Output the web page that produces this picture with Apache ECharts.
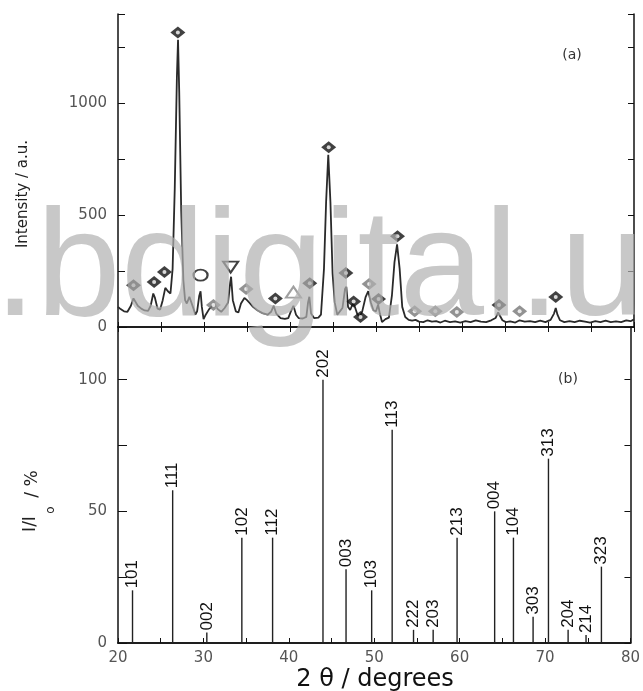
<!DOCTYPE html>
<html><head><meta charset="utf-8">
<script src="https://cdn.jsdelivr.net/npm/echarts@6/dist/echarts.min.js"></script>
<style>html,body{margin:0;padding:0;background:#fff}#c{width:643px;height:691px}</style>
</head><body><div id="c"></div>
<script>
const traceTheta = [20.0,20.3,20.7,21.1,21.5,21.8,22.0,22.3,22.7,23.1,23.5,23.8,24.1,24.3,24.6,24.9,25.2,25.5,25.8,26.1,26.35,26.6,26.85,26.98,27.12,27.35,27.6,27.8,28.0,28.3,28.5,28.8,29.0,29.2,29.45,29.6,29.75,29.95,30.2,30.6,31.0,31.3,31.6,32.0,32.4,32.8,33.05,33.15,33.35,33.7,34.0,34.3,34.7,35.0,35.3,35.7,36.2,36.8,37.4,37.8,38.1,38.4,38.9,39.4,39.8,40.1,40.4,40.7,41.0,41.5,41.9,42.1,42.25,42.45,42.8,43.3,43.6,43.95,44.2,44.45,44.7,44.95,45.2,45.5,45.8,46.1,46.4,46.55,46.75,47.0,47.3,47.5,47.8,48.1,48.4,48.8,49.1,49.4,49.7,50.0,50.25,50.45,50.7,51.1,51.5,51.85,52.15,52.45,52.75,53.05,53.4,53.8,54.2,54.6,55.0,55.5,56.0,56.5,57.0,57.5,58.0,58.6,59.2,59.8,60.4,61.0,61.6,62.2,62.8,63.4,63.9,64.2,64.4,64.7,65.1,65.6,66.2,66.7,67.3,67.9,68.5,69.1,69.7,70.3,70.7,70.9,71.1,71.4,71.9,72.5,73.1,73.7,74.3,74.9,75.5,76.1,76.7,77.3,77.9,78.5,79.1,79.6,80.0];
const traceCounts = [90,80,70,68,95,128,120,95,82,74,72,95,150,130,82,78,120,175,160,150,260,620,1120,1285,1050,520,210,120,105,135,140,80,55,70,140,160,90,35,55,80,95,100,80,68,85,110,200,225,120,70,65,105,130,120,108,90,75,62,55,68,95,60,40,36,40,70,95,55,40,38,45,110,135,60,40,42,55,260,560,770,560,240,110,55,70,85,170,180,90,76,105,95,60,45,70,135,160,110,75,70,100,60,22,35,42,140,290,370,260,90,45,32,28,32,24,22,30,24,26,20,28,22,25,20,26,22,30,24,22,30,40,65,60,30,22,25,20,30,24,26,22,28,22,32,60,85,55,30,22,26,22,28,24,20,26,22,28,22,25,22,30,26,34];

// phase markers (2theta, intensity at marker)
const markBlack = [[21.8,187],[24.2,201],[25.4,246],[26.96,1317],[38.3,127],[42.3,196],[44.5,804],[46.5,241],[47.4,114],[48.2,45],[50.3,125],[52.5,406],[64.3,98],[70.9,134]];
const markGray = [[31.1,98],[34.9,170],[49.2,192],[54.5,71],[56.9,71],[59.4,67],[66.7,71]];
const markOpenCircle = [[29.6,232]];
const markOpenDown = [[33.1,268]];
const markOpenTri = [[40.4,156]];

// ---- (b) reference sticks ----
const stickTheta = [21.7,26.4,30.4,34.5,38.1,44.0,46.7,49.7,52.1,54.6,56.9,59.7,64.1,66.3,68.6,70.4,72.7,74.8,76.6];
const stickRel   = [20,58,4,40,40,100,28,20,81,5,5,40,50,40,10,70,5,3,29];
const stickHkl   = ['101','111','002','102','112','202','003','103','113','222','203','213','004','104','303','313','204','214','323'];

const chart = echarts.init(document.getElementById('c'), null, {renderer:'canvas'});
const F = '"DejaVu Sans", sans-serif';
const tickLbl = {color:'#555', fontFamily:F, fontSize:15};
const baseAxisLine = {show:true, lineStyle:{color:'#111', width:1.5}};

const option = {
  animation:false,
  backgroundColor:'#fff',
  grid:[
    {left:118, right:9, top:14, height:313},
    {left:118, right:9, top:327, height:316}
  ],
  xAxis:[
    {type:'value', gridIndex:0, min:20, max:80, interval:5, position:'bottom',
     axisLine:baseAxisLine, axisTick:{inside:true, length:5, lineStyle:{color:'#111'}}, axisLabel:{show:false}, splitLine:{show:false}},
    {type:'value', gridIndex:0, min:20, max:80, interval:5, position:'top',
     axisLine:baseAxisLine, axisTick:{inside:true, length:5, lineStyle:{color:'#111'}}, axisLabel:{show:false}, splitLine:{show:false}},
    {type:'value', gridIndex:1, min:20, max:80, interval:5, position:'bottom',
     axisLine:baseAxisLine, axisTick:{inside:true, length:5, lineStyle:{color:'#111'}},
     axisLabel:Object.assign({margin:8, formatter:v => v % 10 === 0 ? String(v) : ''}, tickLbl), splitLine:{show:false}},
    {type:'value', gridIndex:1, min:20, max:80, position:'top',
     axisLine:baseAxisLine, axisTick:{show:false}, axisLabel:{show:false}, splitLine:{show:false}}
  ],
  yAxis:[
    {type:'value', gridIndex:0, min:0, max:1400, interval:250, position:'left',
     axisLine:baseAxisLine, axisTick:{inside:true, length:7, lineStyle:{color:'#111'}},
     axisLabel:Object.assign({margin:11, formatter:v => v % 500 === 0 ? String(v) : ''}, tickLbl), splitLine:{show:false}},
    {type:'value', gridIndex:0, min:0, max:1400, interval:250, position:'right',
     axisLine:baseAxisLine, axisTick:{inside:true, length:6, lineStyle:{color:'#111'}}, axisLabel:{show:false}, splitLine:{show:false}},
    {type:'value', gridIndex:1, min:0, max:120, interval:25, position:'left',
     axisLine:baseAxisLine, axisTick:{inside:true, length:9, lineStyle:{color:'#111'}},
     axisLabel:Object.assign({margin:11, formatter:v => v % 50 === 0 ? String(v) : ''}, tickLbl), splitLine:{show:false}},
    {type:'value', gridIndex:1, min:0, max:120, interval:25, position:'right',
     axisLine:baseAxisLine, axisTick:{inside:true, length:6, lineStyle:{color:'#111'}}, axisLabel:{show:false}, splitLine:{show:false}}
  ],
  series:[
    {type:'line', xAxisIndex:0, yAxisIndex:0, symbol:'none', smooth:false,
     lineStyle:{color:'#2a2a2a', width:1.8},
     data: traceTheta.map((t,i) => [t, traceCounts[i]])},
    {type:'scatter', xAxisIndex:0, yAxisIndex:0, symbol:'diamond', symbolSize:[15,12],
     itemStyle:{color:'#111'}, data: markBlack, z:5},
    {type:'scatter', xAxisIndex:0, yAxisIndex:0, symbol:'diamond', symbolSize:[15,12],
     itemStyle:{color:'#777'}, data: markGray, z:5},
    {type:'scatter', xAxisIndex:0, yAxisIndex:0, symbol:'circle', symbolSize:4,
     itemStyle:{color:'#fff'}, data: markBlack.concat(markGray), z:6},
    {type:'scatter', xAxisIndex:0, yAxisIndex:0, symbol:'circle', symbolSize:[14,11],
     itemStyle:{color:'#fff', borderColor:'#111', borderWidth:2}, data: markOpenCircle, z:5},
    {type:'scatter', xAxisIndex:0, yAxisIndex:0, symbol:'triangle', symbolRotate:180, symbolSize:[15,11],
     itemStyle:{color:'#fff', borderColor:'#111', borderWidth:2}, data: markOpenDown, z:5},
    {type:'scatter', xAxisIndex:0, yAxisIndex:0, symbol:'triangle', symbolSize:[15,11],
     itemStyle:{color:'#fff', borderColor:'#888', borderWidth:2}, data: markOpenTri, z:5},
    {type:'bar', xAxisIndex:2, yAxisIndex:2, barWidth:1.4, barGap:'-100%',
     itemStyle:{color:'#222'},
     label:{show:true, position:'top', rotate:90, align:'left', verticalAlign:'middle', distance:2,
            formatter:'{b}', fontFamily:'"Liberation Sans", Arial, sans-serif', fontSize:17, color:'#111'},
     data: stickTheta.map((t,i) => ({name: stickHkl[i], value:[t, stickRel[i]]}))}
  ],
  graphic:[
    {type:'text', x:572, y:55, style:{text:'(a)', font:'14px '+F, fill:'#333', align:'center', verticalAlign:'middle'}},
    {type:'text', x:568, y:379, style:{text:'(b)', font:'14px '+F, fill:'#333', align:'center', verticalAlign:'middle'}},
    {type:'text', x:23, y:194, rotation:Math.PI/2, style:{text:'Intensity / a.u.', font:'15px '+F, fill:'#222', align:'center', verticalAlign:'middle'}},
    {type:'text', x:31, y:524, rotation:Math.PI/2, style:{text:'I/I', font:'17px '+F, fill:'#222', align:'center', verticalAlign:'middle'}},
    {type:'text', x:51, y:510, rotation:Math.PI/2, style:{text:'o', font:'12px '+F, fill:'#222', align:'center', verticalAlign:'middle'}},
    {type:'text', x:33, y:484, rotation:Math.PI/2, style:{text:'/ %', font:'17px '+F, fill:'#222', align:'center', verticalAlign:'middle'}},
    {type:'text', x:375, y:680, style:{text:'2 \u03b8 / degrees', font:'24px '+F, fill:'#111', align:'center', verticalAlign:'middle'}},
    {type:'text', x:-6, y:273, z:100, style:{text:'.bdigital.u', font:'152px "Liberation Sans", Arial, sans-serif', fill:'rgba(176,176,176,0.7)', align:'left', verticalAlign:'middle'}}
  ]
};
chart.setOption(option);
</script>
</body></html>
